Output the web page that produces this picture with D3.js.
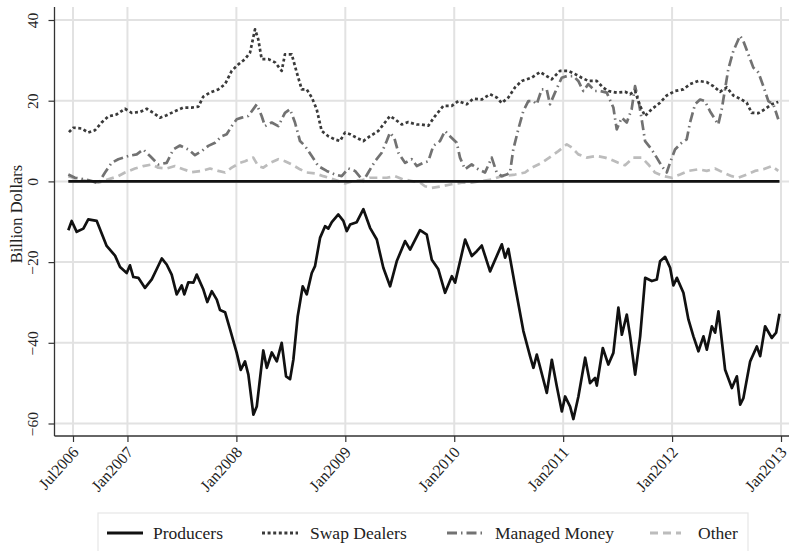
<!DOCTYPE html>
<html>
<head>
<meta charset="utf-8">
<script src="https://cdn.jsdelivr.net/npm/d3@7"></script>
<style>
  html, body { margin: 0; padding: 0; background: #fff; }
  svg { display: block; }
  text { font-family: "Liberation Serif", "DejaVu Serif", serif; fill: #222; }
</style>
</head>
<body>
<svg id="chart" width="790" height="551"></svg>
<script>
// ---- data (dates as decimal years, values in billion dollars) ----
const xTickValues = [2006.5, 2007, 2008, 2009, 2010, 2011, 2012, 2013];
const xTickLabels = ["Jul2006", "Jan2007", "Jan2008", "Jan2009", "Jan2010", "Jan2011", "Jan2012", "Jan2013"];
const yTickValues = [-60, -40, -20, 0, 20, 40];
const seriesNames = ["Producers", "Swap Dealers", "Managed Money", "Other"];

const producers = [
  [2006.457,-12.1],[2006.488,-9.8],[2006.534,-12.5],[2006.595,-11.7],[2006.640,-9.4],[2006.718,-9.8],
  [2006.809,-16.0],[2006.886,-18.4],[2006.932,-21.2],[2006.993,-22.7],[2007.023,-20.8],[2007.054,-23.7],
  [2007.100,-23.9],[2007.161,-26.4],[2007.223,-24.3],[2007.269,-21.7],[2007.315,-19.1],[2007.360,-20.6],
  [2007.406,-23.1],[2007.452,-28.0],[2007.498,-25.8],[2007.522,-28.0],[2007.559,-25.0],[2007.605,-25.1],
  [2007.636,-23.1],[2007.697,-26.8],[2007.733,-29.9],[2007.774,-27.2],[2007.820,-29.3],[2007.850,-31.9],
  [2007.896,-32.4],[2007.942,-36.7],[2008.003,-42.5],[2008.040,-46.7],[2008.079,-44.6],[2008.110,-47.9],
  [2008.156,-57.8],[2008.187,-55.8],[2008.247,-41.9],[2008.279,-46.2],[2008.325,-42.4],[2008.371,-44.6],
  [2008.416,-40.0],[2008.456,-48.3],[2008.493,-49.0],[2008.523,-44.2],[2008.563,-33.4],[2008.609,-26.0],
  [2008.646,-28.0],[2008.692,-22.7],[2008.722,-21.0],[2008.768,-14.0],[2008.814,-11.1],[2008.844,-11.7],
  [2008.876,-10.1],[2008.936,-8.2],[2008.982,-9.8],[2009.013,-12.3],[2009.044,-10.7],[2009.105,-10.1],
  [2009.166,-6.9],[2009.227,-11.5],[2009.289,-14.4],[2009.349,-21.4],[2009.411,-26.0],[2009.472,-19.8],
  [2009.549,-14.8],[2009.595,-16.9],[2009.686,-12.1],[2009.748,-13.2],[2009.794,-19.4],[2009.854,-21.8],
  [2009.916,-27.6],[2009.978,-23.5],[2010.008,-25.1],[2010.100,-14.4],[2010.161,-18.5],[2010.207,-17.3],
  [2010.253,-15.9],[2010.329,-22.3],[2010.437,-15.6],[2010.467,-18.9],[2010.497,-16.7],[2010.559,-26.0],
  [2010.635,-37.1],[2010.696,-43.3],[2010.727,-46.2],[2010.758,-42.9],[2010.850,-52.4],[2010.896,-44.2],
  [2010.942,-50.8],[2010.988,-57.0],[2011.018,-53.3],[2011.064,-55.8],[2011.094,-58.9],[2011.140,-53.3],
  [2011.202,-43.7],[2011.247,-50.0],[2011.293,-48.7],[2011.309,-50.6],[2011.364,-41.3],[2011.415,-45.4],
  [2011.461,-42.5],[2011.507,-31.3],[2011.539,-38.0],[2011.584,-33.0],[2011.615,-38.4],[2011.661,-47.9],
  [2011.707,-38.4],[2011.753,-23.9],[2011.814,-24.7],[2011.860,-24.3],[2011.890,-19.8],[2011.936,-18.7],
  [2011.982,-21.4],[2012.012,-25.8],[2012.044,-23.9],[2012.104,-27.6],[2012.150,-34.2],[2012.196,-38.4],
  [2012.242,-42.1],[2012.288,-38.4],[2012.319,-41.7],[2012.365,-35.9],[2012.395,-37.5],[2012.426,-32.2],
  [2012.487,-46.7],[2012.549,-51.2],[2012.595,-48.3],[2012.625,-55.3],[2012.655,-53.7],[2012.717,-44.6],
  [2012.778,-40.9],[2012.809,-43.3],[2012.854,-35.9],[2012.916,-38.8],[2012.955,-37.5],[2012.986,-32.8]
];

const swapDealers = [
  [2006.463,12.2],[2006.503,13.3],[2006.580,13.1],[2006.640,12.1],[2006.702,12.7],[2006.763,14.6],
  [2006.824,16.1],[2006.901,16.6],[2006.977,18.0],[2007.039,17.0],[2007.115,17.2],[2007.177,18.0],
  [2007.237,17.0],[2007.299,15.8],[2007.360,16.4],[2007.436,17.4],[2007.513,18.3],[2007.590,18.3],
  [2007.650,18.5],[2007.696,21.0],[2007.758,22.0],[2007.834,22.8],[2007.896,24.1],[2007.957,27.4],
  [2008.018,29.0],[2008.079,30.3],[2008.125,31.9],[2008.171,37.7],[2008.201,35.2],[2008.232,30.3],
  [2008.293,30.3],[2008.355,29.5],[2008.416,27.4],[2008.446,31.5],[2008.508,31.5],[2008.554,27.0],
  [2008.600,22.8],[2008.646,22.8],[2008.692,20.8],[2008.737,17.9],[2008.783,12.5],[2008.844,11.2],
  [2008.905,10.4],[2008.951,10.0],[2008.997,12.1],[2009.043,11.7],[2009.105,10.8],[2009.165,10.0],
  [2009.227,11.2],[2009.303,12.5],[2009.364,14.6],[2009.410,16.2],[2009.456,15.4],[2009.518,14.1],
  [2009.578,14.7],[2009.656,14.1],[2009.701,14.1],[2009.762,13.8],[2009.824,16.2],[2009.900,18.7],
  [2009.977,18.7],[2010.037,19.9],[2010.115,19.1],[2010.175,20.5],[2010.252,20.3],[2010.328,21.6],
  [2010.390,20.8],[2010.436,19.4],[2010.497,20.8],[2010.558,23.3],[2010.620,24.9],[2010.711,25.7],
  [2010.788,27.1],[2010.849,26.1],[2010.895,25.3],[2010.971,27.4],[2011.047,27.4],[2011.109,26.6],
  [2011.170,25.7],[2011.231,24.9],[2011.308,24.9],[2011.366,23.3],[2011.415,22.4],[2011.492,22.0],
  [2011.568,22.2],[2011.614,21.6],[2011.660,22.4],[2011.706,18.7],[2011.752,16.2],[2011.813,17.9],
  [2011.890,19.5],[2011.951,21.3],[2012.027,22.4],[2012.103,22.8],[2012.165,24.1],[2012.241,24.9],
  [2012.318,24.6],[2012.379,23.6],[2012.440,22.2],[2012.502,23.3],[2012.562,21.3],[2012.624,20.5],
  [2012.685,19.5],[2012.731,17.0],[2012.792,16.9],[2012.853,17.9],[2012.915,19.1],[2012.975,19.7]
];

const managedMoney = [
  [2006.457,1.7],[2006.518,0.9],[2006.610,0.5],[2006.672,0.1],[2006.732,-0.5],[2006.794,2.2],
  [2006.855,4.6],[2006.916,5.5],[2007.008,6.3],[2007.085,6.7],[2007.145,7.9],[2007.207,6.3],
  [2007.283,4.2],[2007.360,4.6],[2007.421,7.9],[2007.482,8.9],[2007.559,7.9],[2007.620,6.5],
  [2007.682,7.5],[2007.742,8.8],[2007.804,9.6],[2007.865,11.2],[2007.911,11.7],[2007.957,13.7],
  [2008.003,15.4],[2008.049,15.8],[2008.109,16.2],[2008.187,19.1],[2008.232,16.2],[2008.263,13.7],
  [2008.324,14.6],[2008.385,13.7],[2008.446,17.0],[2008.492,17.9],[2008.538,14.6],[2008.584,10.0],
  [2008.630,8.8],[2008.692,6.3],[2008.752,3.8],[2008.829,2.6],[2008.905,1.7],[2008.967,1.3],
  [2009.028,3.2],[2009.089,2.6],[2009.165,0.1],[2009.211,2.2],[2009.273,5.0],[2009.334,7.1],
  [2009.380,10.0],[2009.410,12.1],[2009.450,10.8],[2009.487,7.1],[2009.548,4.6],[2009.610,5.5],
  [2009.656,3.8],[2009.716,4.6],[2009.762,5.0],[2009.808,8.8],[2009.869,10.0],[2009.915,12.5],
  [2009.961,11.2],[2010.023,9.6],[2010.053,5.9],[2010.099,3.0],[2010.160,4.2],[2010.221,3.0],
  [2010.283,2.2],[2010.344,5.9],[2010.390,2.2],[2010.436,1.3],[2010.482,1.7],[2010.512,2.2],
  [2010.542,7.9],[2010.588,12.9],[2010.634,17.4],[2010.680,19.9],[2010.726,19.9],[2010.757,19.1],
  [2010.803,22.8],[2010.849,22.8],[2010.879,19.1],[2010.925,22.0],[2010.987,25.7],[2011.033,26.1],
  [2011.093,26.1],[2011.139,24.9],[2011.185,22.4],[2011.231,24.1],[2011.293,22.4],[2011.338,22.4],
  [2011.400,22.0],[2011.461,18.3],[2011.492,12.9],[2011.538,15.8],[2011.584,14.6],[2011.629,17.9],
  [2011.660,23.6],[2011.690,20.3],[2011.721,15.4],[2011.752,10.0],[2011.813,7.9],[2011.859,5.9],
  [2011.905,3.8],[2011.951,2.2],[2011.981,4.6],[2012.027,7.9],[2012.089,9.6],[2012.134,10.4],
  [2012.165,14.6],[2012.211,19.1],[2012.257,20.3],[2012.302,19.9],[2012.348,17.4],[2012.394,15.4],
  [2012.424,14.1],[2012.456,17.9],[2012.486,22.8],[2012.516,27.8],[2012.562,32.3],[2012.624,36.1],
  [2012.654,34.8],[2012.700,31.5],[2012.746,28.2],[2012.792,27.0],[2012.838,23.6],[2012.884,19.9],
  [2012.930,19.1],[2012.975,15.4]
];

const other = [
  [2006.457,1.3],[2006.549,0.5],[2006.640,0.1],[2006.732,-0.3],[2006.824,0.5],[2006.916,1.3],
  [2006.977,2.2],[2007.069,3.2],[2007.145,3.8],[2007.223,4.2],[2007.283,3.4],[2007.360,3.2],
  [2007.436,3.8],[2007.513,3.0],[2007.590,2.3],[2007.682,2.6],[2007.758,3.2],[2007.834,2.6],
  [2007.896,2.2],[2007.957,3.4],[2008.033,4.6],[2008.079,5.0],[2008.155,5.9],[2008.201,3.8],
  [2008.247,3.4],[2008.309,4.6],[2008.385,5.5],[2008.446,5.0],[2008.508,4.2],[2008.584,3.0],
  [2008.646,2.2],[2008.722,2.0],[2008.798,1.3],[2008.875,0.7],[2008.936,0.1],[2008.997,-0.5],
  [2009.073,0.1],[2009.151,0.3],[2009.227,0.9],[2009.288,0.9],[2009.380,0.9],[2009.456,1.3],
  [2009.532,0.5],[2009.610,0.1],[2009.686,-0.3],[2009.732,-1.2],[2009.793,-1.6],[2009.885,-1.2],
  [2009.977,-0.7],[2010.069,-0.3],[2010.160,-0.3],[2010.252,0.1],[2010.344,0.5],[2010.436,1.3],
  [2010.558,1.7],[2010.650,2.2],[2010.711,3.4],[2010.803,4.6],[2010.895,6.3],[2010.956,7.5],
  [2011.033,9.2],[2011.079,8.4],[2011.139,6.7],[2011.216,5.9],[2011.308,6.3],[2011.384,5.9],
  [2011.430,5.5],[2011.506,4.6],[2011.568,4.0],[2011.644,5.9],[2011.721,5.9],[2011.782,4.2],
  [2011.843,2.2],[2011.920,1.3],[2011.997,0.9],[2012.073,1.7],[2012.149,2.6],[2012.241,3.0],
  [2012.318,2.6],[2012.394,3.2],[2012.470,2.2],[2012.548,1.3],[2012.608,0.9],[2012.685,1.7],
  [2012.761,2.6],[2012.838,3.0],[2012.915,3.8],[2012.975,2.6]
];

// ---- layout ----
const svg = d3.select("#chart");
const plot = { left: 54.5, right: 789, top: 7, bottom: 436 };

const x = d3.scaleLinear().domain([2006.5, 2013]).range([73, 781]);
const y = d3.scaleLinear().domain([-60, 40]).range([423.5, 20]);

// gridlines
const grid = svg.append("g");
grid.selectAll("line.hg").data(yTickValues).enter().append("line")
  .attr("x1", plot.left).attr("x2", plot.right)
  .attr("y1", d => y(d)).attr("y2", d => y(d))
  .attr("stroke", "#e2e2e2").attr("stroke-width", 2);
grid.selectAll("line.vg").data(xTickValues).enter().append("line")
  .attr("x1", d => x(d)).attr("x2", d => x(d))
  .attr("y1", plot.top).attr("y2", plot.bottom)
  .attr("stroke", "#e2e2e2").attr("stroke-width", 2);

// axes
const yAxis = d3.axisLeft(y).tickValues(yTickValues).tickSize(6).tickFormat(d3.format("d"));
const gy = svg.append("g").attr("transform", `translate(${plot.left},0)`).call(yAxis);
gy.select(".domain").remove();
gy.append("line").attr("x1", 0).attr("x2", 0).attr("y1", plot.top).attr("y2", plot.bottom)
  .attr("stroke", "#333").attr("stroke-width", 1.3);
gy.selectAll(".tick line").attr("stroke", "#333").attr("stroke-width", 1.2);
gy.selectAll(".tick text")
  .attr("x", null).attr("dy", null)
  .attr("transform", "translate(-17,0) rotate(-90)")
  .attr("text-anchor", "middle")
  .style("font-family", "Liberation Serif")
  .style("font-size", "15.5px").attr("fill", "#222");

const xAxis = d3.axisBottom(x).tickValues(xTickValues).tickSize(6)
  .tickFormat((d, i) => xTickLabels[i]);
const gx = svg.append("g").attr("transform", `translate(0,${plot.bottom})`).call(xAxis);
gx.select(".domain").remove();
gx.append("line").attr("x1", plot.left).attr("x2", plot.right).attr("y1", 0).attr("y2", 0)
  .attr("stroke", "#333").attr("stroke-width", 1.3);
gx.selectAll(".tick line").attr("stroke", "#333").attr("stroke-width", 1.2);
gx.selectAll(".tick text")
  .attr("y", null).attr("dy", "0.35em")
  .attr("transform", "translate(2,13) rotate(-48)")
  .attr("text-anchor", "end")
  .style("font-family", "Liberation Serif")
  .style("font-size", "16px").attr("fill", "#222");

// y-axis title
svg.append("text")
  .attr("transform", "translate(22,214) rotate(-90)")
  .attr("text-anchor", "middle")
  .style("font-size", "16.5px")
  .text("Billion Dollars");

// lines
const line = d3.line().x(d => x(d[0])).y(d => y(d[1]));
const styles = [
  { data: other, stroke: "#bcbcbc", dash: "8,5", w: 2.7 },
  { data: managedMoney, stroke: "#727272", dash: "10,4,1.5,4", w: 2.7 },
  { data: swapDealers, stroke: "#3a3a3a", dash: "3,2.6", w: 2.7 },
];
styles.forEach(s => {
  svg.append("path").datum(s.data).attr("d", line)
    .attr("fill", "none").attr("stroke", s.stroke).attr("stroke-width", s.w)
    .attr("stroke-dasharray", s.dash).attr("stroke-linejoin", "round");
});

// zero reference line over the data span
const span = d3.extent(producers, d => d[0]);
svg.append("path").datum(span.map(t => [t, 0])).attr("d", line)
  .attr("fill", "none").attr("stroke", "#111").attr("stroke-width", 2.7);

svg.append("path").datum(producers).attr("d", line)
  .attr("fill", "none").attr("stroke", "#111").attr("stroke-width", 2.7)
  .attr("stroke-linejoin", "round");

// legend
const legend = svg.append("g");
legend.append("rect").attr("x", 98).attr("y", 513).attr("width", 650).attr("height", 50)
  .attr("fill", "#fff").attr("stroke", "#e6e6e6").attr("stroke-width", 1.2);
const legendItems = [
  { name: seriesNames[0], stroke: "#111", dash: null, x0: 107, x1: 143, tx: 153 },
  { name: seriesNames[1], stroke: "#3a3a3a", dash: "3,2.6", x0: 262, x1: 298, tx: 310 },
  { name: seriesNames[2], stroke: "#727272", dash: "10,4,1.5,4", x0: 447, x1: 482, tx: 495 },
  { name: seriesNames[3], stroke: "#bcbcbc", dash: "8,5", x0: 650, x1: 681, tx: 698 },
];
legendItems.forEach(it => {
  legend.append("line").attr("x1", it.x0).attr("x2", it.x1).attr("y1", 533).attr("y2", 533)
    .attr("stroke", it.stroke).attr("stroke-width", 3)
    .attr("stroke-dasharray", it.dash);
  legend.append("text").attr("x", it.tx).attr("y", 539)
    .style("font-size", "17.5px").text(it.name);
});
</script>
</body>
</html>
